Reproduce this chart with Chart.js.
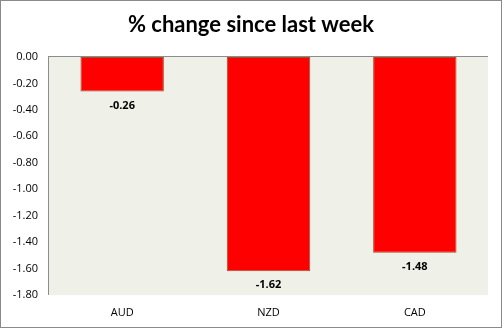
<!DOCTYPE html>
<html>
<head>
<meta charset="utf-8">
<script src="https://cdn.jsdelivr.net/npm/chart.js@4"></script>
<style>
  html, body { margin: 0; padding: 0; background: #fff; }
  #wrap { width: 502px; height: 328px; }
</style>
</head>
<body>
<div id="wrap"><canvas id="myChart" width="502" height="328"></canvas></div>
<script>
const chartTitle = '% change since last week';
const categories = ['AUD', 'NZD', 'CAD'];
const changes = [-0.26, -1.62, -1.48];
const tickValues = [0, -0.2, -0.4, -0.6, -0.8, -1.0, -1.2, -1.4, -1.6, -1.8];

// plot background, zero line, title centred on the whole picture, frame and value labels
const excelLook = {
  id: 'excelLook',
  beforeDraw(chart) {
    const { ctx, chartArea: a } = chart;
    ctx.save();
    ctx.fillStyle = '#eff0e8';
    ctx.fillRect(a.left, a.top, a.right - a.left, a.bottom - a.top);
    ctx.restore();
  },
  afterDatasetsDraw(chart) {
    const { ctx, chartArea: a } = chart;
    ctx.save();
    ctx.strokeStyle = '#8c8c8c';
    ctx.lineWidth = 1;
    ctx.beginPath();
    ctx.moveTo(a.left, a.top - 0.5);
    ctx.lineTo(a.right, a.top - 0.5);
    ctx.moveTo(a.left - 0.5, a.top - 1);
    ctx.lineTo(a.left - 0.5, a.bottom);
    ctx.stroke();

    ctx.fillStyle = '#000';
    ctx.textAlign = 'center';
    ctx.textBaseline = 'middle';
    ctx.font = 'bold 22px Lato, sans-serif';
    ctx.fillText(chartTitle, chart.width / 2, 25);

    ctx.font = 'bold 11px "Open Sans", sans-serif';
    chart.getDatasetMeta(0).data.forEach((bar, i) => {
      ctx.fillText(changes[i].toFixed(2), bar.x, bar.y + 14);
    });

    ctx.strokeStyle = '#8a8a8a';
    ctx.strokeRect(0.5, 0.5, chart.width - 1, chart.height - 1);
    ctx.restore();
  }
};

new Chart(document.getElementById('myChart'), {
  type: 'bar',
  data: {
    labels: categories,
    datasets: [{
      data: changes,
      backgroundColor: '#ff0000',
      borderColor: '#a0522d',
      borderWidth: 1,
      borderSkipped: false,
      categoryPercentage: 1,
      barPercentage: 0.57
    }]
  },
  options: {
    responsive: false,
    animation: false,
    layout: { padding: { top: 57, left: 0, right: 14, bottom: 0 } },
    plugins: {
      legend: { display: false },
      tooltip: { enabled: false },
      title: { display: false }
    },
    scales: {
      x: {
        grid: { display: false },
        border: { display: false },
        ticks: { color: '#000', font: { family: '"Open Sans", sans-serif', size: 11 }, padding: 3 },
        afterFit(scale) { scale.height = 33; }
      },
      y: {
        min: -1.8,
        max: 0,
        afterBuildTicks(scale) { scale.ticks = tickValues.map(v => ({ value: v })); },
        grid: { display: false, drawTicks: false },
        border: { display: false },
        ticks: {
          color: '#000',
          font: { family: '"Open Sans", sans-serif', size: 11 },
          padding: 11,
          callback: v => v.toFixed(2)
        },
        afterFit(scale) { scale.width = 49; }
      }
    }
  },
  plugins: [excelLook]
});
</script>
</body>
</html>
